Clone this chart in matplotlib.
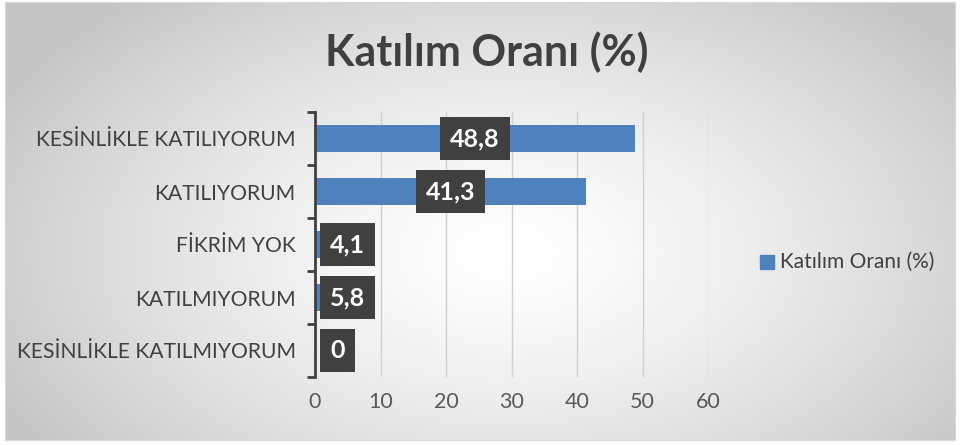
import numpy as np
import matplotlib.pyplot as plt

plt.rcParams['font.family'] = ['Lato', 'DejaVu Sans']

categories = ["KESİNLİKLE KATILMIYORUM", "KATILMIYORUM", "FİKRİM YOK",
              "KATILIYORUM", "KESİNLİKLE KATILIYORUM"]
values = [0, 5.8, 4.1, 41.3, 48.8]
labels = ["0", "5,8", "4,1", "41,3", "48,8"]
series_name = "Katılım Oranı (%)"

W, H = 963, 445
fig = plt.figure(figsize=(W / 100, H / 100), dpi=100)
fig.patch.set_facecolor('white')

# radial gradient background
bg = fig.add_axes([5 / W, 5 / H, 950 / W, 438 / H], zorder=-5)
yy, xx = np.mgrid[0:438, 0:950]
r = np.sqrt(((xx - 500) / 560.0) ** 2 + ((yy - 250) / 330.0) ** 2)
shade = np.clip(1.0 - 0.22 * r ** 1.4, 0.77, 1.0)
bg.imshow(np.dstack([shade] * 3), aspect='auto', interpolation='bilinear')
bg.set_xticks([])
bg.set_yticks([])
for s in bg.spines.values():
    s.set_color('#d9d9d9')

ax = fig.add_axes([315 / W, 1 - 377 / H, 393 / W, 265 / H])
ax.set_facecolor('none')
y = np.arange(len(categories))
ax.barh(y, values, height=0.5, color='#4f81bd', zorder=3)
ax.set_xlim(0, 60)
ax.set_ylim(-0.5, len(categories) - 0.5)
ax.set_xticks(range(0, 61, 10))
ax.grid(axis='x', color='#d0d0d0', lw=1, zorder=0)
ax.set_yticks(y)
ax.set_yticklabels(categories, fontsize=15.2, color='#404040')
ax.set_yticks(np.arange(-0.5, len(categories)), minor=True)
ax.tick_params(axis='y', which='major', length=0, pad=14)
ax.tick_params(axis='y', which='minor', length=6, width=2, color='#404040')
ax.tick_params(axis='x', length=0, labelsize=15.5, labelcolor='#595959', pad=11)
for s in ['top', 'right', 'bottom']:
    ax.spines[s].set_visible(False)
ax.spines['left'].set_color('#404040')
ax.spines['left'].set_linewidth(2)
ax.spines['left'].set_zorder(5)

box = dict(boxstyle='square,pad=0.4', fc='#404040', ec='none')
for yi, v, lab in zip(y, values, labels):
    if v > 10:
        ax.text(v / 2, yi, lab, ha='center', va='center', fontsize=18,
                fontweight='bold', color='white', bbox=box, zorder=6)
    else:
        ax.annotate(lab, (0, yi), xytext=(11, 0), textcoords='offset points',
                    ha='left', va='center', fontsize=18, fontweight='bold',
                    color='white', bbox=box, zorder=6)

fig.text(487 / W, 1 - 52 / H, "Katılım Oranı (%)", ha='center', va='center',
         fontsize=31, fontweight='bold', color='#404040')

fig.patches.append(plt.Rectangle((760 / W, 1 - 269 / H), 14 / W, 14 / H,
                                 transform=fig.transFigure, color='#4f81bd'))
fig.text(780 / W, 1 - 262 / H, series_name, ha='left', va='center',
         fontsize=15, color='#404040')

fig.savefig('out.png', dpi=100)
